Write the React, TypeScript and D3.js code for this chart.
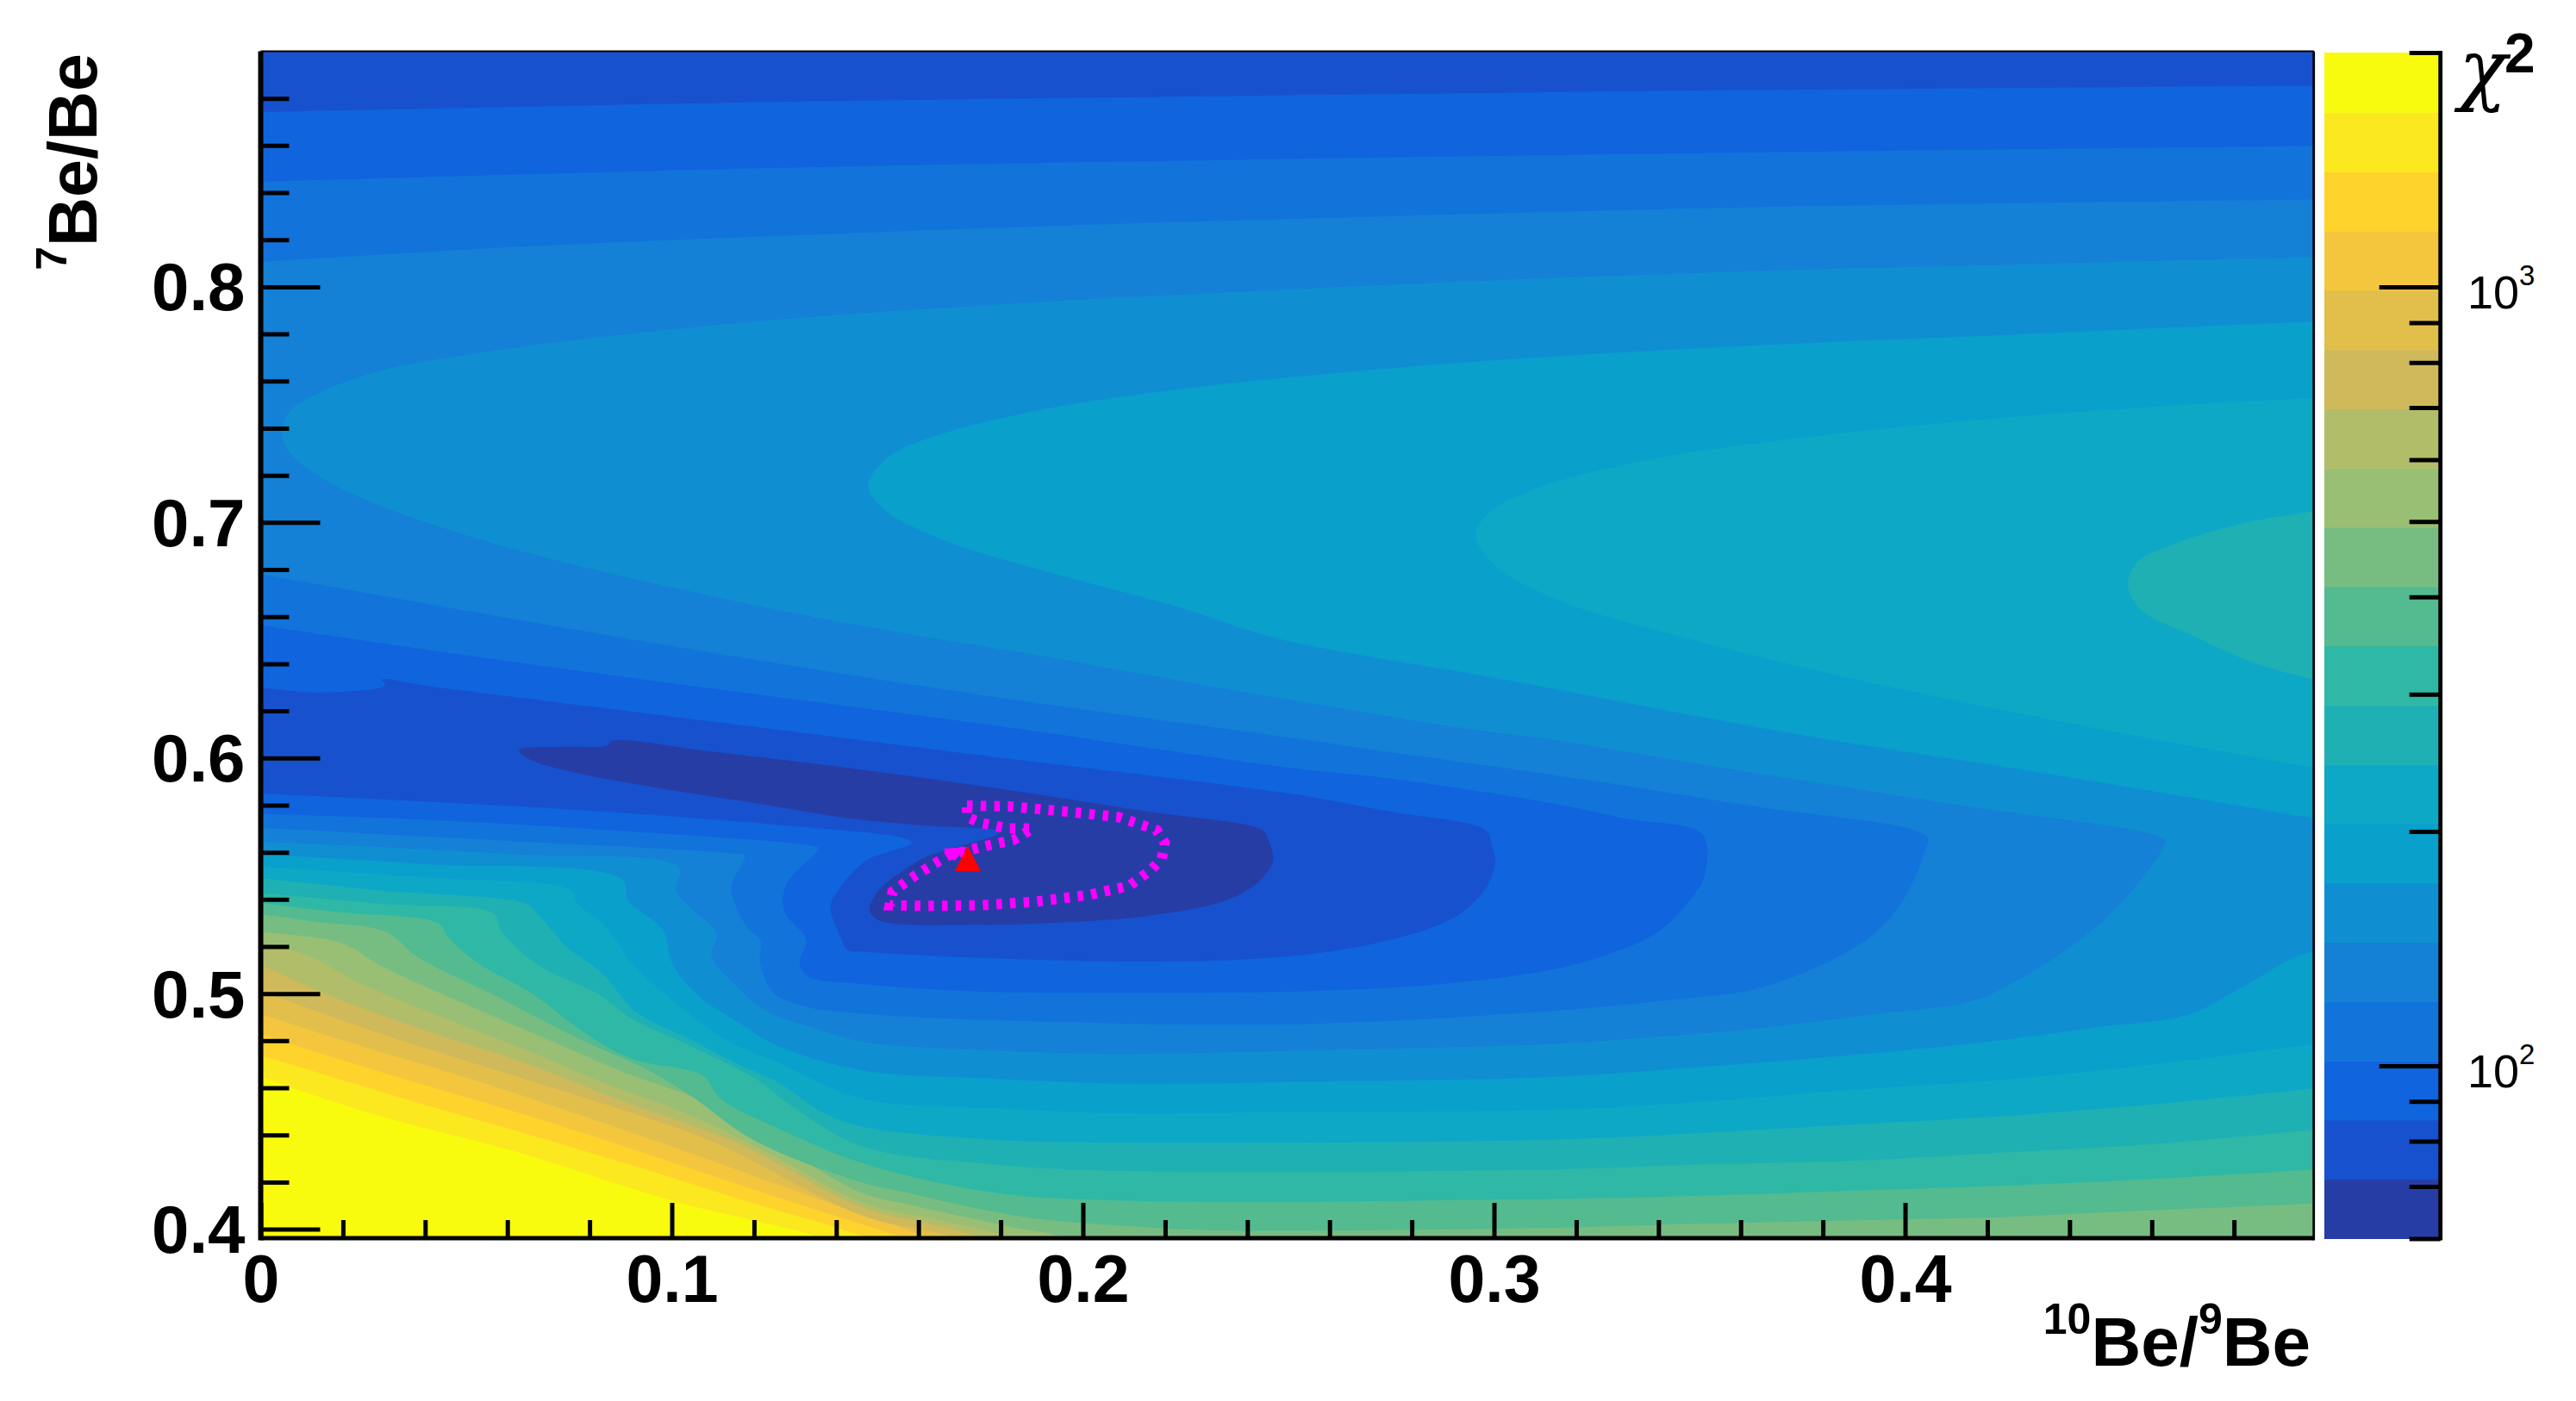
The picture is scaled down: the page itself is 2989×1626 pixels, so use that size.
import React, { useEffect, useRef } from 'react';
import * as d3 from 'd3';

type Pt = [number, number];

// chi2 contour levels, bottom to top of the palette
const levels = [60, 71.5, 85.2, 101.5, 120.9, 144.1, 171.7, 204.6, 243.8, 290.5, 346.1, 412.4, 491.4, 585.5, 697.6, 831.2, 990.4, 1180, 1406, 1676, 2000];
const bandColors = ['#263da6', '#1751ce', '#1064de', '#1273db', '#1480d6', '#0f8fd2', '#09a0cc', '#0da8c6', '#1fb0b4', '#2eb8a5', '#54ba90', '#77bd82', '#99bf74', '#b2bd69', '#cfb95b', '#e2bf4b', '#f4c63d', '#fed32b', '#fbe81f', '#f9fb0e'];

const xMajor = [0, 0.1, 0.2, 0.3, 0.4];
const xMinor = [0.02, 0.04, 0.06, 0.08, 0.12, 0.14, 0.16, 0.18, 0.22, 0.24, 0.26, 0.28, 0.32, 0.34, 0.36, 0.38, 0.42, 0.44, 0.46, 0.48];
const yMajor = [0.4, 0.5, 0.6, 0.7, 0.8];
const yMinor = [0.42, 0.44, 0.46, 0.48, 0.52, 0.54, 0.56, 0.58, 0.62, 0.64, 0.66, 0.68, 0.72, 0.74, 0.76, 0.78, 0.82, 0.84, 0.86, 0.88];
const zMajor = [100, 1000];
const zMinor = [60, 70, 80, 90, 200, 300, 400, 500, 600, 700, 800, 900, 2000];

// regions where chi2 is below a level (x, y in axis units)
const below1Top: Pt[] = [[-0.02, 0.92], [0.52, 0.92], [0.52, 0.8857], [0.5, 0.8854], [0.3612, 0.8835], [0.2476, 0.8813], [0.1257, 0.8785], [0, 0.8742], [-0.02, 0.8735]];
const below2Top: Pt[] = [[-0.02, 0.92], [0.52, 0.92], [0.52, 0.8601], [0.5, 0.8598], [0.3612, 0.857], [0.2476, 0.8542], [0.1257, 0.8505], [0, 0.8447], [-0.02, 0.8437]];
const below3Top: Pt[] = [[-0.02, 0.92], [0.52, 0.92], [0.52, 0.8375], [0.5, 0.8371], [0.3612, 0.8337], [0.2476, 0.8287], [0.1899, 0.8257], [0.1257, 0.8216], [0.0616, 0.8169], [0, 0.8107], [-0.02, 0.809]];

const below0: Pt[] = [[0.0628, 0.6034], [0.0735, 0.6048], [0.0842, 0.6052], [0.0855, 0.6073], [0.1083, 0.603], [0.135, 0.5975], [0.1617, 0.5914], [0.1885, 0.5847], [0.2152, 0.5774], [0.2406, 0.5713], [0.244, 0.5689], [0.2453, 0.5646], [0.2462, 0.5561], [0.242, 0.5463], [0.2339, 0.539], [0.2152, 0.5329], [0.1952, 0.5302], [0.1751, 0.5292], [0.1504, 0.5311], [0.1481, 0.5353], [0.1504, 0.5439], [0.1564, 0.5524], [0.1617, 0.5579], [0.1798, 0.5686], [0.1617, 0.5713], [0.143, 0.5744], [0.1216, 0.5805], [0.0949, 0.5878], [0.0748, 0.5945], [0.0655, 0.5994]];

const below1: Pt[] = [[-0.02, 0.63], [0, 0.6297], [0.0134, 0.6278], [0.0303, 0.6308], [0.0295, 0.6332], [0.0414, 0.6304], [0.1083, 0.6158], [0.1751, 0.6012], [0.251, 0.5847], [0.2746, 0.5773], [0.2981, 0.5692], [0.2994, 0.5633], [0.3003, 0.5556], [0.2981, 0.5451], [0.2928, 0.5353], [0.2853, 0.5283], [0.2692, 0.5206], [0.2532, 0.5164], [0.2372, 0.5143], [0.2104, 0.5136], [0.1783, 0.515], [0.1462, 0.5178], [0.1428, 0.5185], [0.1407, 0.5255], [0.1386, 0.5367], [0.1407, 0.5444], [0.1471, 0.5563], [0.1584, 0.564], [0.1567, 0.5659], [0.1257, 0.5717], [0.083, 0.5773], [0.0402, 0.5815], [0, 0.585], [-0.02, 0.587]];

const below2: Pt[] = [[-0.02, 0.662], [0, 0.6564], [0.0414, 0.6457], [0.1083, 0.6298], [0.1751, 0.6146], [0.251, 0.5957], [0.2746, 0.5913], [0.3139, 0.5808], [0.332, 0.5743], [0.3507, 0.5675], [0.3513, 0.5507], [0.3488, 0.5423], [0.3404, 0.5269], [0.3284, 0.5171], [0.3139, 0.5101], [0.2853, 0.5038], [0.2532, 0.501], [0.1997, 0.5003], [0.173, 0.501], [0.1462, 0.5041], [0.1332, 0.5073], [0.1311, 0.5129], [0.1327, 0.5227], [0.1273, 0.5353], [0.1279, 0.5465], [0.1357, 0.5617], [0.1343, 0.5627], [0.083, 0.5696], [0.0402, 0.5738], [0, 0.5764], [-0.02, 0.578]];

const below3: Pt[] = [[-0.02, 0.684], [0, 0.678], [0.0414, 0.6652], [0.1083, 0.6451], [0.1751, 0.6268], [0.251, 0.6085], [0.2746, 0.6025], [0.3139, 0.593], [0.3621, 0.5798], [0.4054, 0.5664], [0.4048, 0.5605], [0.403, 0.5521], [0.3994, 0.5395], [0.3934, 0.5269], [0.3838, 0.5157], [0.3645, 0.5024], [0.344, 0.4975], [0.3139, 0.4926], [0.2532, 0.487], [0.1997, 0.4877], [0.1462, 0.4915], [0.1322, 0.4947], [0.1247, 0.5003], [0.1215, 0.5129], [0.1215, 0.5227], [0.1183, 0.5283], [0.1145, 0.5451], [0.1177, 0.5584], [0.115, 0.5594], [0.0616, 0.5647], [0, 0.5703], [-0.02, 0.572]];

const below4: Pt[] = [[-0.02, 0.92], [0.52, 0.92], [0.52, 0.813], [0.5, 0.8126], [0.4254, 0.8094], [0.3612, 0.8066], [0.3019, 0.8029], [0.249, 0.7988], [0.1899, 0.7936], [0.1257, 0.7861], [0.0776, 0.7777], [0.0535, 0.7721], [0.0295, 0.7646], [0.0134, 0.7544], [0.007, 0.7469], [0.0051, 0.7376], [0.0078, 0.7282], [0.0167, 0.717], [0.0295, 0.7068], [0.0535, 0.6927], [0.0776, 0.6815], [0.1257, 0.6629], [0.1578, 0.6526], [0.1899, 0.6433], [0.2476, 0.6255], [0.2971, 0.6115], [0.3139, 0.6079], [0.3621, 0.5941], [0.4102, 0.5808], [0.4632, 0.5654], [0.4632, 0.5633], [0.4584, 0.5507], [0.45, 0.5339], [0.4403, 0.5199], [0.4283, 0.5066], [0.4162, 0.4968], [0.3922, 0.4912], [0.3621, 0.4849], [0.338, 0.4814], [0.3139, 0.4786], [0.2532, 0.4758], [0.2104, 0.4744], [0.1783, 0.4758], [0.1462, 0.4796], [0.1343, 0.4856], [0.1236, 0.4919], [0.115, 0.5045], [0.1097, 0.5157], [0.1108, 0.5255], [0.1044, 0.5367], [0.1011, 0.5437], [0.1017, 0.5535], [0.0616, 0.5591], [0, 0.5645], [-0.02, 0.566]];

const below5: Pt[] = [[-0.02, 0.92], [0.52, 0.92], [0.52, 0.786], [0.5, 0.7852], [0.4254, 0.7796], [0.3612, 0.7749], [0.2971, 0.7684], [0.249, 0.7613], [0.222, 0.7562], [0.1899, 0.7478], [0.1658, 0.7376], [0.153, 0.7282], [0.1478, 0.7161], [0.1514, 0.7058], [0.1658, 0.6927], [0.1899, 0.6797], [0.222, 0.6647], [0.2476, 0.6507], [0.3035, 0.633], [0.3709, 0.611], [0.4343, 0.5934], [0.5, 0.5742], [0.52, 0.568], [0.52, 0.505], [0.5, 0.5178], [0.4824, 0.5031], [0.4692, 0.4912], [0.4463, 0.4856], [0.4223, 0.48], [0.3862, 0.4737], [0.35, 0.4688], [0.3139, 0.4646], [0.2532, 0.4625], [0.2104, 0.4618], [0.1783, 0.4639], [0.1462, 0.4674], [0.1257, 0.4779], [0.115, 0.4891], [0.1065, 0.4989], [0.1001, 0.5129], [0.0979, 0.5269], [0.0894, 0.5395], [0.0878, 0.5486], [0.0402, 0.5549], [0, 0.5591], [-0.02, 0.561]];

const below6: Pt[] = [[-0.02, 0.92], [0.52, 0.92], [0.52, 0.755], [0.5, 0.7529], [0.4575, 0.7488], [0.4093, 0.7422], [0.3693, 0.7348], [0.3372, 0.7264], [0.3131, 0.7161], [0.2987, 0.704], [0.2955, 0.6946], [0.3003, 0.6816], [0.3163, 0.6666], [0.3452, 0.6517], [0.3773, 0.6377], [0.4093, 0.6255], [0.4517, 0.6109], [0.5, 0.5958], [0.52, 0.59], [0.52, 0.482], [0.5, 0.4786], [0.4584, 0.4695], [0.4223, 0.4632], [0.3862, 0.459], [0.35, 0.4541], [0.3139, 0.4506], [0.2532, 0.4499], [0.2104, 0.4492], [0.1783, 0.4513], [0.1462, 0.4555], [0.1257, 0.4709], [0.1129, 0.4807], [0.099, 0.4989], [0.0904, 0.5129], [0.084, 0.5283], [0.0771, 0.5381], [0.0755, 0.5437], [0.0402, 0.5493], [0, 0.5538], [-0.02, 0.556]];

const below7: Pt[] = [[-0.02, 0.92], [0.52, 0.92], [0.52, 0.71], [0.5, 0.7049], [0.4815, 0.6993], [0.4655, 0.6909], [0.4566, 0.6834], [0.4542, 0.6731], [0.4574, 0.6629], [0.4703, 0.6517], [0.4847, 0.6405], [0.5, 0.633], [0.52, 0.625], [0.52, 0.463], [0.5, 0.4597], [0.4584, 0.4527], [0.4223, 0.4478], [0.3862, 0.4443], [0.35, 0.4408], [0.3139, 0.438], [0.2104, 0.4366], [0.1783, 0.438], [0.1462, 0.4436], [0.1364, 0.4499], [0.1257, 0.4625], [0.115, 0.4709], [0.1044, 0.4807], [0.0915, 0.4919], [0.083, 0.5087], [0.0744, 0.5199], [0.0701, 0.5283], [0.0669, 0.5346], [0.0648, 0.5381], [0.0295, 0.5437], [0, 0.5489], [-0.02, 0.552]];

const below8: Pt[] = [[-0.02, 0.92], [0.52, 0.92], [0.52, 0.445], [0.5, 0.4422], [0.4584, 0.4359], [0.4223, 0.4324], [0.3862, 0.4289], [0.35, 0.4275], [0.3139, 0.4254], [0.2104, 0.4247], [0.1783, 0.4275], [0.1462, 0.4352], [0.1289, 0.4527], [0.1204, 0.4639], [0.1044, 0.4779], [0.0904, 0.4891], [0.083, 0.4989], [0.0669, 0.5129], [0.0584, 0.5269], [0.0567, 0.5339], [0.0295, 0.5381], [0, 0.5427], [-0.02, 0.546]];

const below9: Pt[] = [[-0.02, 0.92], [0.52, 0.92], [0.52, 0.428], [0.5, 0.4254], [0.4584, 0.4212], [0.4223, 0.4184], [0.3862, 0.4163], [0.35, 0.4142], [0.3139, 0.4128], [0.2104, 0.4121], [0.1783, 0.4156], [0.1462, 0.4282], [0.1257, 0.4429], [0.1118, 0.4555], [0.1075, 0.4653], [0.0904, 0.4723], [0.0787, 0.4835], [0.0658, 0.5003], [0.053, 0.5129], [0.0455, 0.5241], [0.0434, 0.5297], [0.0188, 0.5346], [0, 0.5385], [-0.02, 0.542]];

const below10: Pt[] = [[-0.02, 0.92], [0.52, 0.92], [0.52, 0.413], [0.5, 0.411], [0.4584, 0.4079], [0.4223, 0.4051], [0.3862, 0.4037], [0.35, 0.4023], [0.3139, 0.4006], [0.2318, 0.3995], [0.2104, 0.4014], [0.189, 0.4044], [0.173, 0.4093], [0.1569, 0.4156], [0.1462, 0.4198], [0.1204, 0.4373], [0.1044, 0.4569], [0.0936, 0.4681], [0.0776, 0.4807], [0.0573, 0.4989], [0.038, 0.5157], [0.0305, 0.5262], [0.0134, 0.5304], [0, 0.5337], [-0.02, 0.537]];

const below11: Pt[] = [[-0.02, 0.92], [0.52, 0.92], [0.52, 0.38], [0.21, 0.38], [0.196, 0.396], [0.1826, 0.4009], [0.1569, 0.4107], [0.1462, 0.4154], [0.1257, 0.4359], [0.1097, 0.4527], [0.0883, 0.4667], [0.0723, 0.4786], [0.0509, 0.4947], [0.0295, 0.5115], [0.0198, 0.5213], [0, 0.5262], [-0.02, 0.53]];

const below12: Pt[] = [[-0.02, 0.92], [0.52, 0.92], [0.52, 0.38], [0.198, 0.38], [0.1826, 0.396], [0.1676, 0.403], [0.1462, 0.4114], [0.1257, 0.4303], [0.1044, 0.4485], [0.083, 0.4625], [0.0669, 0.4744], [0.0455, 0.4891], [0.0241, 0.5045], [0.0102, 0.5171], [0, 0.5195], [-0.02, 0.524]];

const below13: Pt[] = [[-0.02, 0.92], [0.52, 0.92], [0.52, 0.38], [0.19, 0.38], [0.1756, 0.396], [0.1623, 0.4023], [0.1462, 0.4093], [0.115, 0.4373], [0.0883, 0.4541], [0.0637, 0.4709], [0.0402, 0.4842], [0.015, 0.5003], [0, 0.5122], [-0.02, 0.527]];

const below14: Pt[] = [[-0.02, 0.92], [0.52, 0.92], [0.52, 0.38], [0.185, 0.38], [0.1692, 0.396], [0.1462, 0.4058], [0.1097, 0.4373], [0.083, 0.4534], [0.0562, 0.4681], [0.0295, 0.4828], [0, 0.501], [-0.02, 0.513]];

const below15: Pt[] = [[-0.02, 0.92], [0.52, 0.92], [0.52, 0.38], [0.185, 0.38], [0.1632, 0.396], [0.1311, 0.4156], [0.1044, 0.4324], [0.0776, 0.4485], [0.0509, 0.4639], [0.0241, 0.4779], [0, 0.4912], [-0.02, 0.502]];

const below16: Pt[] = [[-0.02, 0.92], [0.52, 0.92], [0.52, 0.38], [0.18, 0.38], [0.1568, 0.396], [0.1257, 0.4135], [0.099, 0.4289], [0.0723, 0.4443], [0.0455, 0.4583], [0.0188, 0.4723], [0, 0.4828], [-0.02, 0.493]];

const below17: Pt[] = [[-0.02, 0.92], [0.52, 0.92], [0.52, 0.38], [0.17, 0.38], [0.1482, 0.396], [0.1204, 0.4107], [0.0936, 0.4254], [0.0669, 0.4394], [0.0402, 0.4527], [0.0188, 0.4639], [0, 0.4737], [-0.02, 0.484]];

const below18: Pt[] = [[-0.02, 0.92], [0.52, 0.92], [0.52, 0.38], [0.16, 0.38], [0.137, 0.396], [0.1001, 0.4121], [0.0616, 0.4331], [0.0295, 0.4478], [0.0081, 0.4597], [0, 0.4646], [-0.02, 0.474]];

// painted from the highest band down to the lowest
const regionsByBand: Pt[][][] = [
  [below0], [below1, below1Top], [below2, below2Top], [below3, below3Top],
  [below4], [below5], [below6], [below7], [below8], [below9], [below10],
  [below11], [below12], [below13], [below14], [below15], [below16], [below17], [below18],
];

// one-sigma contour and the best fit point
const sigmaContour: Pt[] = [[0.1718, 0.5798], [0.1818, 0.5795], [0.1952, 0.5774], [0.2085, 0.575], [0.2179, 0.5695], [0.2199, 0.564], [0.2192, 0.5573], [0.2165, 0.5524], [0.2112, 0.5457], [0.2018, 0.542], [0.1885, 0.539], [0.1751, 0.5375], [0.1617, 0.5372], [0.153, 0.5375], [0.1537, 0.5433], [0.1591, 0.55], [0.1671, 0.5585], [0.1751, 0.5622], [0.1831, 0.5652], [0.1878, 0.5701], [0.1818, 0.5701], [0.1751, 0.5725], [0.1718, 0.5749]];
const sigmaBlob: Pt[] = [[0.166, 0.5615], [0.1719, 0.5622], [0.1687, 0.5563]];
const bestFit: Pt = [0.172, 0.5555];

function App() {
  const svgRef = useRef<SVGSVGElement>(null);

  useEffect(() => {
    if (!svgRef.current) return;
    const svg = d3.select(svgRef.current);
    svg.selectAll('*').remove();

    const font = '"Liberation Sans", Arial, sans-serif';
    const x = d3.scaleLinear().domain([0, 0.4994]).range([302.5, 2684.7]);
    const y = d3.scaleLinear().domain([0.3962, 0.9]).range([1437, 59.5]);
    const z = d3.scaleLog().domain([60, 2000]).range([1437.5, 61]);

    svg.append('clipPath').attr('id', 'frame')
      .append('rect')
      .attr('x', x(0)).attr('y', y(0.9))
      .attr('width', x(0.4994) - x(0)).attr('height', y(0.3962) - y(0.9));

    // Contour bands
    const area = d3.line<Pt>().x(d => x(d[0])).y(d => y(d[1])).curve(d3.curveCatmullRomClosed.alpha(0.5));
    const bands = svg.append('g').attr('clip-path', 'url(#frame)');
    bands.append('rect')
      .attr('x', x(0)).attr('y', y(0.9))
      .attr('width', x(0.4994) - x(0)).attr('height', y(0.3962) - y(0.9))
      .attr('fill', bandColors[19]);
    for (let k = regionsByBand.length - 1; k >= 0; k--) {
      regionsByBand[k].forEach(ring => {
        bands.append('path').attr('d', area(ring)).attr('fill', bandColors[k]);
      });
    }

    // Palette
    const palette = svg.append('g');
    bandColors.forEach((c, k) => {
      palette.append('rect')
        .attr('x', 2697).attr('width', 133)
        .attr('y', z(levels[k + 1])).attr('height', z(levels[k]) - z(levels[k + 1]) + 0.5)
        .attr('fill', c);
    });

    const styleAxis = (g: any, w: number) => {
      g.selectAll('.tick line').attr('stroke', '#000').attr('stroke-width', w);
      g.selectAll('.domain').remove();
    };

    // X axis
    const gx = svg.append('g').attr('transform', `translate(0,${y(0.3962)})`);
    gx.call(d3.axisBottom(x).tickValues(xMinor).tickSize(-21).tickFormat(() => ''));
    styleAxis(gx, 5);
    const gxm = svg.append('g').attr('transform', `translate(0,${y(0.3962)})`);
    gxm.call(d3.axisBottom(x).tickValues(xMajor).tickSize(-41).tickPadding(0).tickFormat(d => String(d)));
    styleAxis(gxm, 5);
    gxm.selectAll('text').attr('y', 74).attr('dy', 0)
      .attr('font-family', font).attr('font-weight', 'bold').attr('font-size', 77).attr('fill', '#000');

    // Y axis
    const gy = svg.append('g').attr('transform', `translate(${x(0)},0)`);
    gy.call(d3.axisLeft(y).tickValues(yMinor).tickSize(-33).tickFormat(() => ''));
    styleAxis(gy, 5);
    const gym = svg.append('g').attr('transform', `translate(${x(0)},0)`);
    gym.call(d3.axisLeft(y).tickValues(yMajor).tickSize(-69).tickPadding(0).tickFormat(d => String(d)));
    styleAxis(gym, 5);
    gym.selectAll('text').attr('x', -18).attr('dy', 27)
      .attr('font-family', font).attr('font-weight', 'bold').attr('font-size', 78).attr('fill', '#000');

    // Palette axis
    const gz = svg.append('g').attr('transform', 'translate(2831.7,0)');
    gz.call(d3.axisRight(z).tickValues(zMinor).tickSize(-36).tickFormat(() => ''));
    styleAxis(gz, 5);
    const gzm = svg.append('g').attr('transform', 'translate(2831.7,0)');
    gzm.call(d3.axisRight(z).tickValues(zMajor).tickSize(-71).tickFormat(() => ''));
    styleAxis(gzm, 5);

    // Frame lines
    const frame = svg.append('g').attr('stroke', '#000');
    frame.append('line').attr('x1', x(0)).attr('x2', x(0)).attr('y1', y(0.9)).attr('y2', y(0.3962) + 2.5).attr('stroke-width', 6);
    frame.append('line').attr('x1', x(0)).attr('x2', x(0.4994)).attr('y1', y(0.3962)).attr('y2', y(0.3962)).attr('stroke-width', 4.8);
    frame.append('line').attr('x1', x(0)).attr('x2', x(0.4994)).attr('y1', y(0.9)).attr('y2', y(0.9)).attr('stroke-width', 2);
    frame.append('line').attr('x1', x(0.4994)).attr('x2', x(0.4994)).attr('y1', y(0.9)).attr('y2', y(0.3962) + 2.4).attr('stroke-width', 2.8);
    frame.append('line').attr('x1', 2831.7).attr('x2', 2831.7).attr('y1', z(2000) - 2).attr('y2', z(60) + 2).attr('stroke-width', 4.8);

    // Best fit contour and marker
    const contourLine = d3.line<Pt>().x(d => x(d[0])).y(d => y(d[1]));
    svg.append('path').attr('d', contourLine(sigmaContour) + 'Z')
      .attr('fill', 'none').attr('stroke', '#ff00ff').attr('stroke-width', 12).attr('stroke-dasharray', '6.5 9.3');
    svg.append('path').attr('d', contourLine(sigmaBlob) + 'Z').attr('fill', '#ff00ff');
    svg.append('path')
      .attr('d', d3.symbol().type(d3.symbolTriangle).size(400)())
      .attr('transform', `translate(${x(bestFit[0])},${y(bestFit[1])}) scale(1,1.12)`)
      .attr('fill', '#ff0000');

    // Titles
    const xTitle = svg.append('text')
      .attr('x', 2681).attr('y', 1585).attr('text-anchor', 'end')
      .attr('font-family', font).attr('font-weight', 'bold').attr('font-size', 80).attr('fill', '#000');
    xTitle.append('tspan').attr('font-size', 50).attr('dy', -37).text('10');
    xTitle.append('tspan').attr('dy', 37).text('Be/');
    xTitle.append('tspan').attr('font-size', 50).attr('dy', -37).text('9');
    xTitle.append('tspan').attr('dy', 37).text('Be');

    const yTitle = svg.append('text')
      .attr('transform', 'translate(111.5,62) rotate(-90)').attr('text-anchor', 'end')
      .attr('font-family', font).attr('font-weight', 'bold').attr('font-size', 79).attr('fill', '#000');
    yTitle.append('tspan').attr('font-size', 50).attr('dy', -35).text('7');
    yTitle.append('tspan').attr('dy', 35).text('Be/Be');

    svg.append('text').attr('x', 2853).attr('y', 111)
      .attr('font-family', '"DejaVu Serif", serif').attr('font-style', 'italic')
      .attr('font-size', 92).attr('fill', '#000').text('χ');
    svg.append('text').attr('x', 2906).attr('y', 84)
      .attr('font-family', font).attr('font-weight', 'bold').attr('font-size', 64).attr('fill', '#000').text('2');

    zMajor.forEach((v, i) => {
      const t = svg.append('text').attr('x', 2863).attr('y', z(v) + 25)
        .attr('font-family', font).attr('font-size', 54).attr('fill', '#000');
      t.append('tspan').text('10');
      t.append('tspan').attr('font-size', 33).attr('dy', -27).text(String(i + 2));
    });
  }, []);

  return (
    <svg
      ref={svgRef}
      width={2989}
      height={1626}
      style={{ position: 'absolute', left: 0, top: 0, background: '#fff', display: 'block' }}
    />
  );
}

export default App;
